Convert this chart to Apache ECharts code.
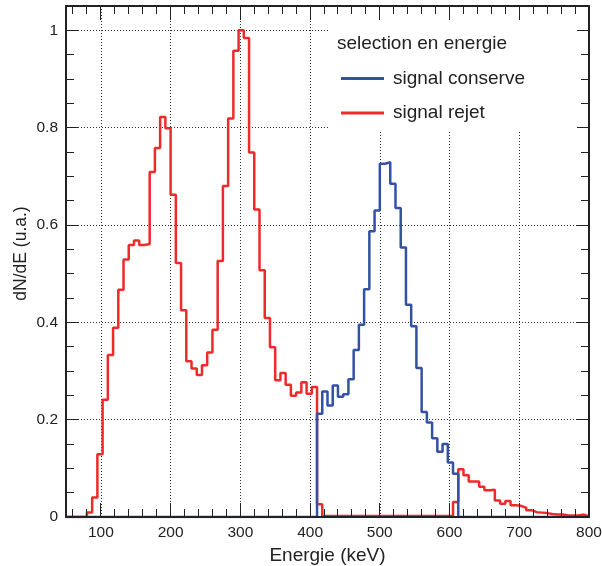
<!DOCTYPE html>
<html>
<head>
<meta charset="utf-8">
<script src="https://cdn.jsdelivr.net/npm/echarts@6/dist/echarts.min.js"></script>
<style>
html,body{margin:0;padding:0;background:#fff;}
#c{width:602px;height:566px;}
</style>
</head>
<body>
<div id="c"></div>
<script>
// Histogram binning: 100 bins of 7.5 keV from 50 to 800 keV
var binStart = 50;
var binWidth = 7.5;

// "signal rejet" (red), one value per bin
var rejet = [
  0, 0, 0, 0, 0.009, 0.040, 0.129, 0.241, 0.333, 0.389,
  0.467, 0.529, 0.559, 0.568, 0.559, 0.561, 0.709, 0.758, 0.822, 0.799,
  0.662, 0.522, 0.425, 0.320, 0.305, 0.292, 0.312, 0.338, 0.385, 0.526,
  0.680, 0.819, 0.958, 1.000, 0.984, 0.749, 0.632, 0.507, 0.409, 0.349,
  0.281, 0.296, 0.272, 0.249, 0.256, 0.277, 0.253, 0.267, 0.026, 0.002,
  0.002, 0.002, 0.002, 0.002, 0.002, 0.002, 0.002, 0.002, 0.002, 0.002,
  0.002, 0.002, 0.002, 0.002, 0.002, 0.002, 0.002, 0.002, 0.002, 0.002,
  0.002, 0.002, 0.002, 0.002, 0.031, 0.098, 0.086, 0.073, 0.073, 0.062,
  0.055, 0.056, 0.034, 0.027, 0.033, 0.024, 0.023, 0.019, 0.014, 0.010,
  0.009, 0.008, 0.006, 0.005, 0.005, 0.003, 0.003, 0.003, 0.005, 0.001
];

// "signal conserve" (blue), one value per bin
var conserve = [
  0, 0, 0, 0, 0, 0, 0, 0, 0, 0,
  0, 0, 0, 0, 0, 0, 0, 0, 0, 0,
  0, 0, 0, 0, 0, 0, 0, 0, 0, 0,
  0, 0, 0, 0, 0, 0, 0, 0, 0, 0,
  0, 0, 0, 0, 0, 0, 0, 0, 0.212, 0.258,
  0.229, 0.270, 0.247, 0.252, 0.283, 0.343, 0.395, 0.468, 0.587, 0.630,
  0.726, 0.729, 0.685, 0.635, 0.554, 0.436, 0.392, 0.306, 0.216, 0.194,
  0.162, 0.134, 0.150, 0.112, 0.089, 0, 0, 0, 0, 0,
  0, 0, 0, 0, 0, 0, 0, 0, 0, 0,
  0, 0, 0, 0, 0, 0, 0, 0, 0, 0
];

// Axis ranges, tick positions and tick labels
var xMin = 50, xMax = 800, yMin = 0, yMax = 1.05;
var xMajorTicks = [100, 200, 300, 400, 500, 600, 700, 800];
var xMinorTicks = [60, 80, 120, 140, 160, 180, 220, 240, 260, 280, 320, 340, 360, 380,
  420, 440, 460, 480, 520, 540, 560, 580, 620, 640, 660, 680, 720, 740, 760, 780];
var yMajorTicks = [0, 0.2, 0.4, 0.6, 0.8, 1.0];
var yTickLabels = ['0', '0.2', '0.4', '0.6', '0.8', '1'];
var yMinorTicks = [0.05, 0.1, 0.15, 0.25, 0.3, 0.35, 0.45, 0.5, 0.55, 0.65, 0.7, 0.75,
  0.85, 0.9, 0.95];

var seriesNames = ['signal conserve', 'signal rejet'];
var legendTitle = 'selection en energie';
var xTitle = 'Energie (keV)';
var yTitle = 'dN/dE (u.a.)';

function toSteps(vals) {
  var out = [];
  for (var i = 0; i < vals.length; i++) out.push([binStart + i * binWidth, vals[i]]);
  out.push([binStart + vals.length * binWidth, vals[vals.length - 1]]);
  return out;
}
function inner(list, lo, hi) { return list.filter(function (v) { return v > lo && v < hi; }); }

var FONT = 'Liberation Sans, Arial, Helvetica, sans-serif';
var INK = '#222';
var BLUE = '#3452a4';
var RED = '#ee2a2a';
var X_MAJOR_LEN = 14, X_MINOR_LEN = 8, Y_MAJOR_LEN = 12, Y_MINOR_LEN = 8;

var chart = echarts.init(document.getElementById('c'), null, {renderer: 'canvas'});

var G = {left: 66, right: 13, top: 6, bottom: 49, outerBoundsMode: 'none', containLabel: false};

function xAx(grid, pos, opts) {
  return Object.assign({
    type: 'value', min: xMin, max: xMax, gridIndex: grid, position: pos, z: 5,
    axisLine: {show: false, onZero: false}, axisTick: {show: false},
    axisLabel: {show: false}, splitLine: {show: false}
  }, opts || {});
}
function yAx(grid, pos, opts) {
  return Object.assign({
    type: 'value', min: yMin, max: yMax, gridIndex: grid, position: pos, z: 5,
    axisLine: {show: false, onZero: false}, axisTick: {show: false},
    axisLabel: {show: false}, splitLine: {show: false}
  }, opts || {});
}
var frameLine = {show: true, onZero: false, lineStyle: {color: INK, width: 2}};
var dotted = {show: true, lineStyle: {color: '#333', type: [1, 2], width: 1}};

var baseGraphics = [
  { // legend box background (hides grid lines behind the legend)
    id: 'legendBox', type: 'rect', z: 1,
    shape: {x: 330, y: 8, width: 258, height: 124},
    style: {fill: '#fff'}
  },
  {
    id: 'yTitle', type: 'text', z: 10,
    x: 21.5, y: 253.5, rotation: Math.PI / 2,
    style: {text: yTitle, fontFamily: FONT, fontSize: 17.5, fill: INK, align: 'center', verticalAlign: 'middle'}
  }
];

var option = {
  animation: false,
  backgroundColor: '#fff',
  grid: [Object.assign({}, G), Object.assign({}, G)],
  title: {
    text: legendTitle,
    left: 337, top: 34, padding: 0,
    textStyle: {fontFamily: FONT, fontSize: 19, fontWeight: 'normal', color: INK}
  },
  legend: {
    data: seriesNames,
    orient: 'vertical',
    left: 341, top: 68.5, padding: 0,
    itemWidth: 43, itemHeight: 3, itemGap: 14.4,
    icon: 'rect',
    textStyle: {fontFamily: FONT, fontSize: 19, color: INK, lineHeight: 20, padding: [0, 0, 0, 4]}
  },
  xAxis: [
    // grid 0: dotted grid lines
    xAx(0, 'bottom', {z: 0, axisTick: {show: false, customValues: inner(xMajorTicks, xMin, xMax)}, splitLine: dotted}),
    // grid 1: frame, labels, title
    xAx(1, 'bottom', {
      axisLine: frameLine,
      axisLabel: {show: true, customValues: xMajorTicks, margin: 8, fontFamily: FONT, fontSize: 15.5, color: INK},
      name: xTitle, nameLocation: 'middle', nameGap: 22,
      nameTextStyle: {fontFamily: FONT, fontSize: 19, color: INK}
    }),
    xAx(1, 'top', {axisLine: frameLine})
  ],
  yAxis: [
    yAx(0, 'left', {z: 0, axisTick: {show: false, customValues: inner(yMajorTicks, yMin, yMax)}, splitLine: dotted}),
    yAx(1, 'left', {
      axisLine: frameLine,
      axisLabel: {show: true, customValues: yMajorTicks, margin: 8, fontFamily: FONT, fontSize: 15.5, color: INK,
        formatter: function (v) { return yTickLabels[yMajorTicks.indexOf(Math.round(v * 100) / 100)]; }}
    }),
    yAx(1, 'right', {axisLine: frameLine})
  ],
  graphic: baseGraphics,
  series: [
    {
      name: seriesNames[1], type: 'line', step: 'end', xAxisIndex: 1, yAxisIndex: 1,
      data: toSteps(rejet), showSymbol: false, z: 3,
      lineStyle: {color: RED, width: 2.5}, itemStyle: {color: RED}
    },
    {
      name: seriesNames[0], type: 'line', step: 'end', xAxisIndex: 1, yAxisIndex: 1,
      data: toSteps(conserve), showSymbol: false, z: 4,
      lineStyle: {color: BLUE, width: 2.5}, itemStyle: {color: BLUE}
    }
  ]
};
chart.setOption(option);

// Frame ticks (ROOT style, inside, on all four sides), placed through the chart's own axis scales
function toPx(x, y) {
  var p = null;
  try { p = chart.convertToPixel({xAxisIndex: 1, yAxisIndex: 1}, [x, y]); } catch (e) { p = null; }
  if (!p || isNaN(p[0]) || isNaN(p[1])) {
    try { p = chart.convertToPixel({gridIndex: 1}, [x, y]); } catch (e) { p = null; }
  }
  return p;
}
function crisp(v) { return Math.round(v - 0.5) + 0.5; }
var tickEls = [];
var n = 0;
function tickLine(x1, y1, x2, y2) {
  tickEls.push({id: 'tk' + (n++), type: 'line', z: 12, silent: true,
    shape: {x1: x1, y1: y1, x2: x2, y2: y2}, style: {stroke: INK, lineWidth: 1}});
}
function xTick(v, len) {
  var b = toPx(v, yMin), t = toPx(v, yMax);
  if (!b || !t) return;
  var x = crisp(b[0]);
  tickLine(x, b[1], x, b[1] - len);
  tickLine(x, t[1], x, t[1] + len);
}
function yTick(v, len) {
  var l = toPx(xMin, v), r = toPx(xMax, v);
  if (!l || !r) return;
  var y = crisp(l[1]);
  tickLine(l[0], y, l[0] + len, y);
  tickLine(r[0], y, r[0] - len, y);
}
inner(xMajorTicks, xMin, xMax).forEach(function (v) { xTick(v, X_MAJOR_LEN); });
xMinorTicks.forEach(function (v) { xTick(v, X_MINOR_LEN); });
inner(yMajorTicks, yMin, yMax).forEach(function (v) { yTick(v, Y_MAJOR_LEN); });
yMinorTicks.forEach(function (v) { yTick(v, Y_MINOR_LEN); });

chart.setOption({graphic: baseGraphics.concat(tickEls)});
</script>
</body>
</html>
